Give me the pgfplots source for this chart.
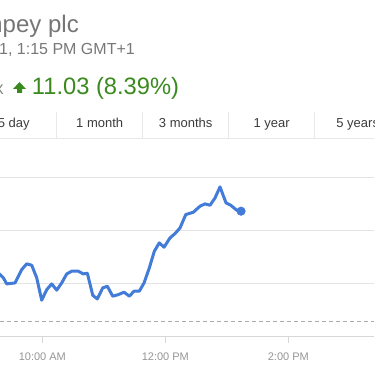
\documentclass[border=0pt]{standalone}
\usepackage{pgfplots}
\pgfplotsset{compat=1.18}
\usepackage{fontspec}
\setmainfont{Liberation Sans}
\definecolor{gline}{RGB}{66,124,216}
\definecolor{titlegray}{RGB}{118,118,118}
\definecolor{subgray}{RGB}{120,120,120}
\definecolor{upgreen}{RGB}{58,138,30}
\definecolor{tabtext}{RGB}{60,60,60}
\definecolor{sepgray}{RGB}{232,232,232}
\definecolor{gridgray}{RGB}{228,228,228}
\definecolor{axisgray}{RGB}{215,215,215}
\definecolor{dashgray}{RGB}{170,170,170}
\definecolor{ticklab}{RGB}{150,150,150}
\begin{document}
\begin{tikzpicture}[x=1pt,y=1pt]
\useasboundingbox (0,0) rectangle (374,374);
\clip (0,0) rectangle (374,374);
\fill[white] (0,0) rectangle (374,374);
% header
\node[anchor=base east, text=titlegray, font=\fontsize{24}{28}\selectfont, inner sep=0] at (79,341) {Taylor Wimpey plc};
\node[anchor=base east, text=subgray, font=\fontsize{16}{19}\selectfont, inner sep=0] at (135,319) {Jul 11, 1:15 PM GMT+1};
\node[anchor=base east, text=subgray, font=\fontsize{14}{17}\selectfont, inner sep=0] at (4,279) {142.50 GBX};
\fill[upgreen] (19.5,292) -- (26,285) -- (22,285) -- (22,281) -- (17,281) -- (17,285) -- (13,285) -- cycle;
\node[anchor=base west, text=upgreen, font=\fontsize{23.7}{28}\selectfont, inner sep=0] at (31.7,279) {11.03 (8.39\%)};
% tabs
\foreach \cx/\lab in {13.7/5 day, 99.7/1 month, 185.7/3 months, 271.7/1 year, 357.7/5 years}{
  \node[anchor=base, text=tabtext, font=\fontsize{13}{16}\selectfont, inner sep=0] at (\cx,246) {\lab};
}
\foreach \sx in {56.7,142.7,228.7,314.7}{
  \draw[sepgray, line width=0.8pt] (\sx,236) -- (\sx,262);
}
\draw[sepgray, line width=0.8pt] (0,236) -- (374,236);
\begin{axis}[
  at={(0,35)}, anchor=south west,
  scale only axis, width=374pt, height=169.6pt,
  xmin=9.312, xmax=15.393, ymin=130, ymax=146,
  axis x line*=bottom, axis y line*=left,
  y axis line style={draw=none},
  x axis line style={draw=axisgray, line width=0.8pt},
  ytick={135,140,145}, yticklabels={}, ytick style={draw=none},
  ymajorgrids, grid style={draw=gridgray, line width=0.8pt},
  xtick={10,12,14}, xticklabels={10:00 AM,12:00 PM,2:00 PM},
  tick align=outside, major tick length=6pt,
  xtick style={draw=axisgray, line width=0.8pt},
  xticklabel style={anchor=base, yshift=-17.4pt, text=ticklab, font=\fontsize{11}{13}\selectfont},
  clip=false,
]
\addplot[dashgray, line width=0.8pt, dash pattern=on 4pt off 3pt] coordinates {(9.312,131.47) (15.393,131.47)};
\addplot[gline, line width=3pt, line join=round, line cap=round] coordinates {
(9.28,136.05) (9.312,135.88) (9.366,135.57) (9.421,135.00) (9.556,135.09) (9.665,136.35) (9.746,136.89)
(9.828,136.76) (9.909,135.57) (9.990,133.46) (10.072,134.46) (10.153,135.00) (10.234,134.41)
(10.315,135.09) (10.397,135.94) (10.478,136.20) (10.585,136.20) (10.667,135.94) (10.732,136.01)
(10.820,133.93) (10.894,133.58) (10.982,134.62) (11.057,134.78) (11.145,133.84) (11.236,133.99)
(11.328,134.22) (11.415,133.84) (11.491,134.31) (11.577,134.31) (11.654,135.09) (11.740,136.51)
(11.821,138.08) (11.902,138.87) (11.979,138.46) (12.076,139.34) (12.158,139.75) (12.239,140.28)
(12.332,141.54) (12.455,141.76) (12.564,142.33) (12.646,142.55) (12.727,142.42) (12.808,143.11)
(12.889,144.15) (12.987,142.64) (13.063,142.42) (13.161,141.95) (13.231,141.86)
};
\addplot[gline, only marks, mark=*, mark size=4.3pt, mark options={draw=gline, fill=gline}] coordinates {(13.231,141.86)};
\end{axis}
\end{tikzpicture}
\end{document}
